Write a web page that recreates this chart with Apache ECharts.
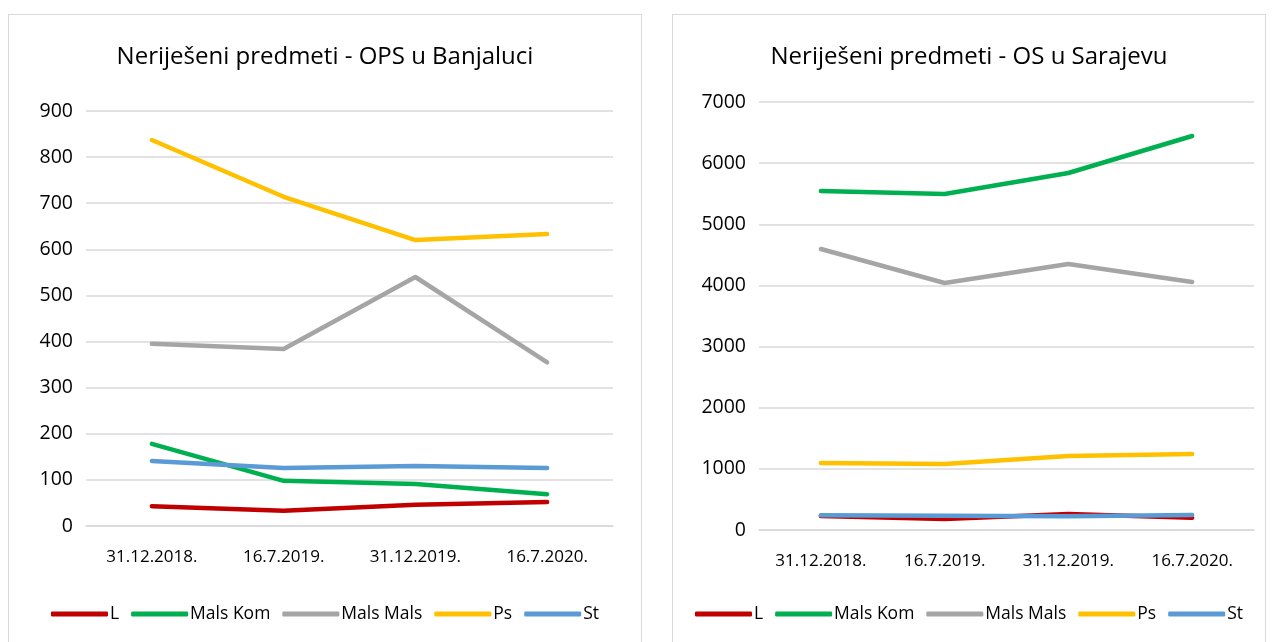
<!DOCTYPE html>
<html>
<head>
	<meta charset="UTF-8">
	<title>Neriješeni predmeti</title>
	<script src="https://cdn.jsdelivr.net/npm/echarts@6/dist/echarts.min.js"></script>
	<style>
		html, body { margin: 0; padding: 0; background: #fff; overflow: hidden; }
		.box { position: absolute; top: 14px; height: 640px; border: 1px solid #d9d9d9; box-sizing: border-box; background: #fff; }
	</style>
</head>
<body>
	<div class="box" id="chartLeft" style="left: 8px; width: 634px;"></div>
	<div class="box" id="chartRight" style="left: 672px; width: 594px;"></div>
	<script>
		// datumi
		var dates = ['31.12.2018.', '16.7.2019.', '31.12.2019.', '16.7.2020.'];
		var seriesNames = ['L', 'Mals Kom', 'Mals Mals', 'Ps', 'St'];
		var colors = ['#C00000', '#00B050', '#A5A5A5', '#FFC000', '#5B9BD5'];

		// OPS u Banjaluci
		var bl_L = [43, 33, 46, 52];
		var bl_MalsKom = [178, 98, 91, 69];
		var bl_MalsMals = [395, 384, 540, 355];
		var bl_Ps = [837, 714, 620, 633];
		var bl_St = [141, 126, 130, 126];

		// OS u Sarajevu
		var sa_L = [230, 180, 260, 200];
		var sa_MalsKom = [5545, 5496, 5839, 6444];
		var sa_MalsMals = [4596, 4040, 4351, 4056];
		var sa_Ps = [1096, 1080, 1210, 1243];
		var sa_St = [240, 235, 225, 245];

		var fontFam = '"Open Sans", "Noto Sans", sans-serif';

		function makeOption(title, data, yMax, yStep, grid) {
			var series = [];
			for (var i = 0; i < seriesNames.length; i++) {
				series.push({
					name: seriesNames[i],
					type: 'line',
					data: data[i],
					symbol: 'none',
					lineStyle: { width: 4.5, color: colors[i], cap: 'round', join: 'round' },
					itemStyle: { color: colors[i] }
				});
			}
			return {
				animation: false,
				color: colors,
				title: {
					text: title,
					left: 'center',
					top: 25,
					textStyle: { fontFamily: fontFam, fontSize: 24, fontWeight: 'normal', color: '#000' }
				},
				legend: {
					top: 585,
					left: 'center',
					itemWidth: 57,
					itemHeight: 5,
					itemGap: 12,
					icon: 'roundRect',
					textStyle: { fontFamily: fontFam, fontSize: 17.5, color: '#000', padding: [0, 0, 0, -3] },
					data: seriesNames
				},
				grid: grid,
				xAxis: {
					type: 'category',
					data: dates,
					boundaryGap: true,
					axisLine: { show: true, lineStyle: { color: '#d9d9d9', width: 1.5 } },
					axisTick: { show: false },
					axisLabel: { fontFamily: fontFam, fontSize: 17, color: '#000', margin: 23 }
				},
				yAxis: {
					type: 'value',
					min: 0,
					max: yMax,
					interval: yStep,
					axisLine: { show: false },
					axisTick: { show: false },
					splitLine: { lineStyle: { color: '#d9d9d9', width: 1.5 } },
					axisLabel: {
						fontFamily: fontFam, fontSize: 19.5, color: '#000', margin: 13,
						formatter: function (v) { return String(v); }
					}
				},
				series: series
			};
		}

		var chartLeft = echarts.init(document.getElementById('chartLeft'));
		chartLeft.setOption(makeOption('Neriješeni predmeti - OPS u Banjaluci',
			[bl_L, bl_MalsKom, bl_MalsMals, bl_Ps, bl_St], 900, 100,
			{ left: 77, right: 28, top: 96, height: 415 }));

		var chartRight = echarts.init(document.getElementById('chartRight'));
		chartRight.setOption(makeOption('Neriješeni predmeti - OS u Sarajevu',
			[sa_L, sa_MalsKom, sa_MalsMals, sa_Ps, sa_St], 7000, 1000,
			{ left: 86, right: 11, top: 87, height: 428 }));
	</script>
</body>
</html>
